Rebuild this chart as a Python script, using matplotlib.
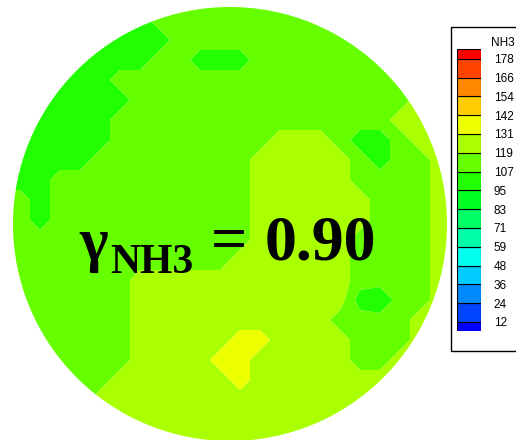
import numpy as np
import matplotlib
matplotlib.use('Agg')
import matplotlib.pyplot as plt
from matplotlib.patches import Circle, Rectangle

# contour levels (NH3) and the flood colours of the 16 bands, lowest first
levels = [12, 24, 36, 48, 59, 71, 83, 95, 107, 119, 131, 142, 154, 166, 178]
band_colors = ['#0000ff', '#0044ff', '#0088ff', '#00ccff', '#00ffee', '#00ffaa',
               '#00ff66', '#00ff22', '#22ff00', '#66ff00', '#aaff00', '#eeff00',
               '#ffcc00', '#ff8800', '#ff4400', '#ff0000']

# NH3 at the nodes of a 20 px grid over the disc (rows top to bottom)
node_value = {'d': 96, 'D': 101, 'L': 113, 'Y': 125, 'E': 137}
field_rows = [
    "DDDDDDDDLLLLLLLLLLLLLLLL",
    "DDDDDDDDLLLLLLLLLLLLLLLL",
    "DDDDDDDDDLLLLLLLLLLLLLLL",
    "DDDDDDDDLLDDDLLLLLLLLLLL",
    "DDDDDDLLLLLLLLLLLLLLLLLL",
    "DDDDDDDLLLLLLLLLLLLLLYYY",
    "DDDDDDLLLLLLLLLLLLLLYYYY",
    "DDDDDDLLLLLLLLYYYLDDLYYY",
    "DDDDDLLLLLLLLYYYYYLDLLYY",
    "DDDLLLLLLLLLLYYYYYLLLLYY",
    "LLDLLLLLLLLLLYYYYYYLLLYY",
    "LLDLLLLLLLLLLYYYYYYLLLYY",
    "LLLLLLLLLLLLLYYYYYLLLLYY",
    "LLLLLLLLLLLLYYYYYYLLLLYY",
    "LLLLLLLYYYYYYYYYYYLLLLYY",
    "LLLLLLLYYYYYYYYYYYDdLLYY",
    "LLLLLLLYYYYYYYYYYLLLLYYY",
    "LLLLLLLYYYYYEEYYYYLLLYYY",
    "LLLLLLLYYYYEEYYYYYLLYYYY",
    "LLLLLLYYYYYYEYYYYYYYYYYY",
    "LLLLLYYYYYYYYYYYYYYYYYYY",
    "YYYYYYYYYYYYYYYYYYYYYYYY",
    "YYYYYYYYYYYYYYYYYYYYYYYY",
]

grid_x = np.arange(0, 461, 20)
grid_y = np.arange(0, 441, 20)
Z = np.array([[node_value[c] for c in row] for row in field_rows], dtype=float)
X, Y = np.meshgrid(grid_x, grid_y)

fig = plt.figure(figsize=(5.16, 4.40), dpi=100)
ax = fig.add_axes([0, 0, 1, 1])
ax.set_xlim(0, 516)
ax.set_ylim(440, 0)
ax.axis('off')

disc = Circle((230, 224), 217, transform=ax.transData)
cs = ax.contourf(X, Y, Z, levels=[-1000] + levels + [1000], colors=band_colors,
                 antialiased=True)
cs.set_clip_path(disc)

# label inside the disc
serif = 'Liberation Serif'
ax.text(79, 260, 'γ', fontsize=44, fontweight='bold', family=serif,
        va='baseline', ha='left')
ax.text(110, 273, 'NH3', fontsize=30, fontweight='bold', family=serif,
        va='baseline', ha='left')
ax.text(211, 260, '=', fontsize=46, fontweight='bold', family=serif,
        va='baseline', ha='left')
ax.text(265, 260, '0.90', fontsize=46, fontweight='bold', family=serif,
        va='baseline', ha='left')

# legend frame
ax.add_patch(Rectangle((451, 27), 90, 324, facecolor='white',
                       edgecolor='black', lw=1, zorder=3))
ax.text(491, 43, 'NH3', fontsize=8.5, family='Liberation Sans',
        va='center', ha='left', zorder=4)

lax = fig.add_axes([457 / 516, (440 - 331.4) / 440, 24.3 / 516, 282.1 / 440])
lax.set_xlim(0, 1)
lax.set_ylim(-0.5, 14.5)
bottoms = [-0.5] + list(range(15))
heights = [0.5] + [1] * 14 + [0.5]
lax.bar(0.5, heights, bottom=bottoms, width=1, color=band_colors,
        edgecolor='black', lw=0.8)
lax.patch.set_visible(False)
for s in lax.spines.values():
    s.set_visible(False)
lax.set_xticks([])
lax.yaxis.tick_right()
lax.set_yticks(range(15))
lax.set_yticklabels([str(v) for v in levels], family='Liberation Sans', fontsize=8.5)
lax.tick_params(axis='y', length=0, pad=9)

fig.savefig('out.png', dpi=100)
